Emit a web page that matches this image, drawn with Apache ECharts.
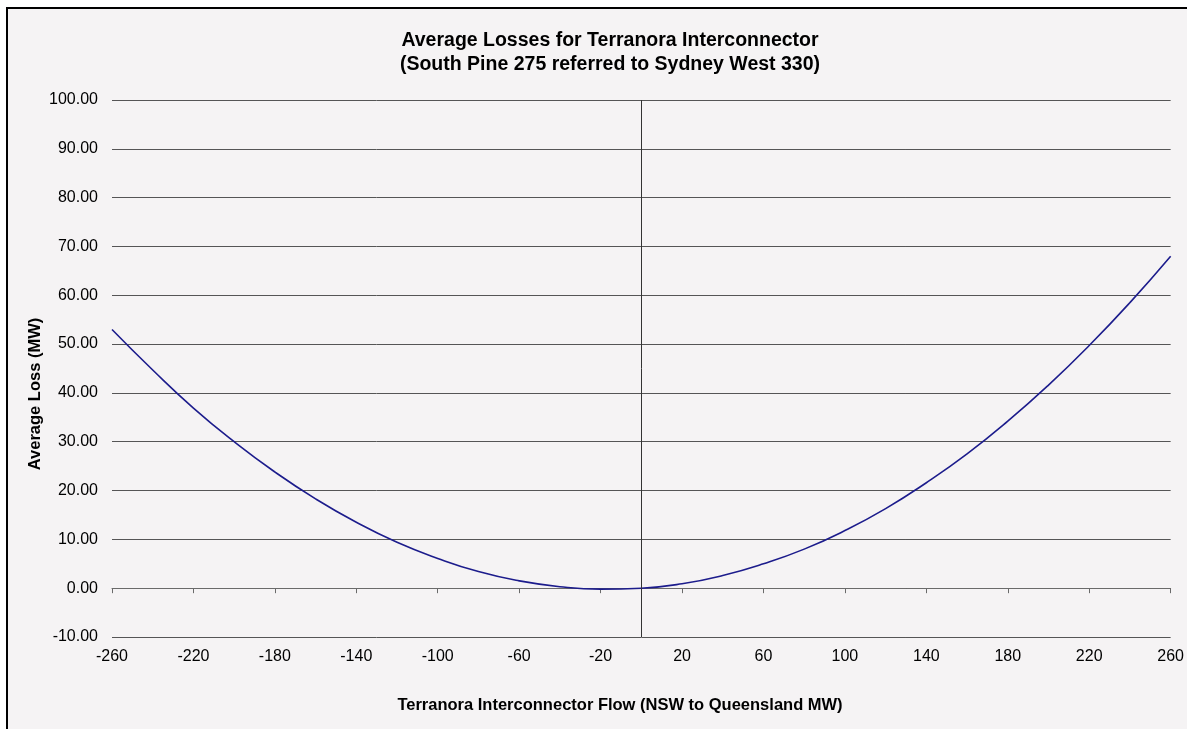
<!DOCTYPE html>
<html>
<head>
<meta charset="utf-8">
<script src="https://cdn.jsdelivr.net/npm/echarts@6/dist/echarts.min.js"></script>
<style>
  html, body { margin: 0; padding: 0; background: #ffffff; }
  #chart { width: 1187px; height: 729px; }
</style>
</head>
<body>
<div id="chart"></div>
<script>
// ---- Data ----
var flows  = [-260, -240, -220, -200, -180, -160, -140, -120, -100, -80, -60, -40, -20, 0,
              20, 40, 60, 80, 100, 120, 140, 160, 180, 200, 220, 240, 260];
var losses = [53.0, 44.7, 36.9, 30.0, 23.8, 18.3, 13.5, 9.4, 6.1, 3.4, 1.5, 0.3, -0.2, 0.0,
              0.9, 2.6, 5.0, 8.0, 11.8, 16.3, 21.6, 27.5, 34.2, 41.6, 49.7, 58.5, 68.0];
var titleLines = ['Average Losses for Terranora Interconnector', '(South Pine 275 referred to Sydney West 330)'];
var xTitle = 'Terranora Interconnector Flow (NSW to Queensland MW)';
var yTitle = 'Average Loss (MW)';
var xMin = -260, xMax = 260, xStep = 40;
var yMin = -10, yMax = 100, yStep = 10;

var points = flows.map(function (f, i) { return [f, losses[i]]; });

var chart = echarts.init(document.getElementById('chart'), null, { renderer: 'canvas' });
var font = 'Arial, "Liberation Sans", sans-serif';

chart.setOption({
  animation: false,
  backgroundColor: '#ffffff',
  graphic: [
    { type: 'rect', z: -10, shape: { x: 7, y: 8, width: 1220, height: 780 },
      style: { fill: '#f5f3f4', stroke: '#000000', lineWidth: 2 } },
    { type: 'text', x: 620, y: 705,
      style: { text: xTitle, font: 'bold 16.5px ' + font, fill: '#000', align: 'center', verticalAlign: 'middle' } },
    { type: 'text', x: 35, y: 394, rotation: Math.PI / 2, origin: [0, 0],
      style: { text: yTitle, font: 'bold 16.5px ' + font, fill: '#000', align: 'center', verticalAlign: 'middle' } }
  ],
  title: {
    text: titleLines.join('\n'),
    left: 605, top: 24, textAlign: 'center',
    textStyle: { fontFamily: font, fontWeight: 'bold', fontSize: 19.5, lineHeight: 23.5, color: '#000' }
  },
  grid: { left: 112, right: 10, top: 100, bottom: 92, containLabel: false },
  xAxis: [
    { type: 'value', min: xMin, max: xMax, interval: xStep, position: 'bottom',
      axisLine: { show: false, onZero: false },
      axisTick: { show: false },
      splitLine: { show: false },
      axisLabel: { margin: 12, fontSize: 16, fontFamily: font, color: '#000' } },
    { type: 'value', min: xMin, max: xMax, interval: xStep, position: 'bottom',
      axisLine: { show: true, onZero: true, lineStyle: { color: '#6a6a6a', width: 1 } },
      axisTick: { show: true, inside: false, length: 5, lineStyle: { color: '#6a6a6a' } },
      splitLine: { show: false },
      axisLabel: { show: false } }
  ],
  yAxis: {
    type: 'value', min: yMin, max: yMax, interval: yStep,
    axisLine: { show: false },
    axisTick: { show: false },
    splitLine: { show: true, lineStyle: { color: '#555555', width: 1 } },
    axisLabel: { margin: 14, fontSize: 16, fontFamily: font, color: '#000',
      formatter: function (v) { return v.toFixed(2); } }
  },
  series: [{
    type: 'line',
    xAxisIndex: 0,
    data: points,
    smooth: true,
    showSymbol: false,
    lineStyle: { color: '#1c1c8c', width: 1.6 },
    markLine: {
      silent: true, symbol: 'none', label: { show: false },
      lineStyle: { color: '#333333', width: 1, type: 'solid' },
      data: [{ xAxis: 0 }]
    }
  }]
});
</script>
</body>
</html>
